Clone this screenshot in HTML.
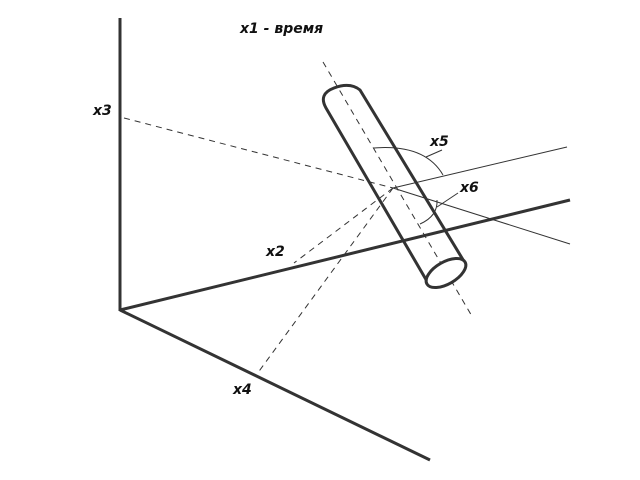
<!DOCTYPE html>
<html><head><meta charset="utf-8"><style>
html,body{margin:0;padding:0;background:#fff;}
svg{display:block}
text{font-family:"DejaVu Sans","Liberation Sans",sans-serif;font-weight:bold;font-style:italic;font-size:14px;fill:#111}
</style></head><body>
<svg width="640" height="480" viewBox="0 0 640 480" xmlns="http://www.w3.org/2000/svg">
<g stroke="#333" fill="none">
<line x1="120" y1="18" x2="120" y2="311" stroke-width="3"/>
<line x1="120" y1="310" x2="570" y2="200" stroke-width="3"/>
<line x1="120" y1="310" x2="430" y2="460" stroke-width="3"/>
<g stroke-width="1" stroke-dasharray="6,5">
<line x1="124" y1="118" x2="393" y2="188"/>
<line x1="323" y1="62" x2="473" y2="318"/>
<line x1="393" y1="188" x2="294" y2="263"/>
<line x1="393" y1="188" x2="257" y2="374"/>
</g>
<line x1="393" y1="188" x2="567" y2="147" stroke-width="1"/>
<line x1="393" y1="188" x2="570" y2="244" stroke-width="1"/>
<path d="M374 148 Q425 144 443 175" stroke-width="1"/>
<line x1="426" y1="157" x2="442" y2="150" stroke-width="1"/>
<path d="M437 200 Q438 216 420 224" stroke-width="1"/>
<line x1="437" y1="207" x2="458" y2="193" stroke-width="1"/>
<path d="M428 283 L326 108 Q318 94 334 88 Q350 82 360 90 L465 263" stroke-width="3" stroke-linejoin="round"/>
<ellipse cx="446" cy="273" rx="22" ry="11" transform="rotate(-30 446 273)" stroke-width="3" fill="#fff"/>
</g>
<text x="240" y="33">x1 - время</text>
<text x="93" y="115">x3</text>
<text x="266" y="256">x2</text>
<text x="233" y="394">x4</text>
<text x="430" y="146">x5</text>
<text x="460" y="192">x6</text>
</svg>
</body></html>
